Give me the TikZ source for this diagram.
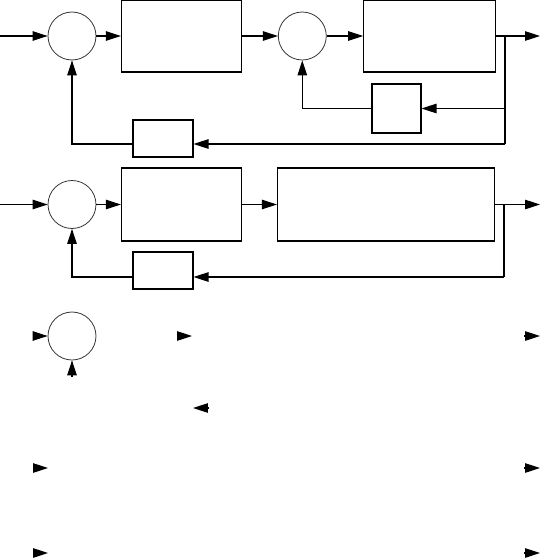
\documentclass[tikz,border=0pt]{standalone}
\usetikzlibrary{arrows.meta,positioning,calc}
\tikzset{
  sumnode/.style={draw=black!80,circle,line width=0.45pt,
    minimum size=0.96cm,inner sep=0pt},
  blockbox/.style={draw=black,rectangle,line width=0.6pt,inner sep=0pt},
  flowline/.style={draw=black,line width=0.6pt},
  flowarrow/.style={-{Triangle[length=0.3cm,width=0.19cm]},
    line width=0.6pt,draw=black},
}
\begin{document}
\begin{tikzpicture}[x=0.02cm,y=-0.02cm]
\useasboundingbox (0,0) rectangle (542,558);
% upper loop, inner and outer feedback
\node[sumnode] (sum1) at (72,36) {};
\node[blockbox,minimum width=2.4cm,minimum height=1.44cm,right=0.49cm of sum1] (ctrl1) {};
\node[sumnode,right=0.72cm of ctrl1] (sum2) {};
\node[blockbox,minimum width=2.64cm,minimum height=1.44cm,right=0.73cm of sum2] (plant1) {};
\node[blockbox,minimum size=0.98cm] (inner1) at (396.5,108.5) {};
\node[blockbox,minimum width=1.2cm,minimum height=0.74cm] (outer1) at (163,138.5) {};
\coordinate (in1) at (0,36);
\coordinate (br1) at (505,36);
\coordinate (fb1) at (505,144);
\coordinate (out1) at (540,36);
\draw[flowarrow] (in1) -- (sum1);
\draw[flowarrow] (sum1) -- (ctrl1);
\draw[flowarrow] (ctrl1) -- (sum2);
\draw[flowarrow] (sum2) -- (plant1);
\draw[flowarrow] (plant1) -- (out1);
\draw[flowline] (br1) -- (fb1);
\draw[flowarrow] (br1 |- inner1) -- (inner1);
\draw[flowarrow] (inner1) -| (sum2);
\draw[flowarrow] (fb1) -- (outer1.east |- fb1);
\draw[flowarrow] (outer1.west |- fb1) -| (sum1);
% lower loop
\node[sumnode] (sum3) at (72,204.5) {};
\node[blockbox,minimum width=2.4cm,minimum height=1.46cm,right=0.49cm of sum3] (ctrl2) {};
\node[blockbox,minimum width=4.34cm,minimum height=1.46cm,right=0.7cm of ctrl2] (plant2) {};
\node[blockbox,minimum width=1.2cm,minimum height=0.74cm] (outer2) at (163,270.5) {};
\coordinate (in2) at (0,204.5);
\coordinate (br2) at (504,204.5);
\coordinate (fb2) at (504,277);
\coordinate (out2) at (540,204.5);
\draw[flowarrow] (in2) -- (sum3);
\draw[flowarrow] (sum3) -- (ctrl2);
\draw[flowarrow] (ctrl2) -- (plant2);
\draw[flowarrow] (plant2) -- (out2);
\draw[flowline] (br2) -- (fb2);
\draw[flowarrow] (fb2) -- (outer2.east |- fb2);
\draw[flowarrow] (outer2.west |- fb2) -| (sum3);
% loose parts
\node[sumnode] (sum4) at (72,336) {};
\coordinate (p1) at (33,336);
\coordinate (p2) at (72,377);
\draw[flowarrow] (p1) -- (sum4);
\draw[flowarrow] (p2) -- (sum4);
\coordinate (a1) at (177,336); \coordinate (a2) at (192,336);
\coordinate (a3) at (209,408); \coordinate (a4) at (193,408);
\coordinate (a5) at (524,336); \coordinate (a6) at (540,336);
\coordinate (a7) at (33,468);  \coordinate (a8) at (48,468);
\coordinate (a9) at (524,468); \coordinate (a10) at (540,468);
\coordinate (a11) at (33,553); \coordinate (a12) at (48,553);
\coordinate (a13) at (524,553); \coordinate (a14) at (540,553);
\draw[flowarrow] (a1) -- (a2);
\draw[flowarrow] (a3) -- (a4);
\draw[flowarrow] (a5) -- (a6);
\draw[flowarrow] (a7) -- (a8);
\draw[flowarrow] (a9) -- (a10);
\draw[flowarrow] (a11) -- (a12);
\draw[flowarrow] (a13) -- (a14);
\end{tikzpicture}
\end{document}
